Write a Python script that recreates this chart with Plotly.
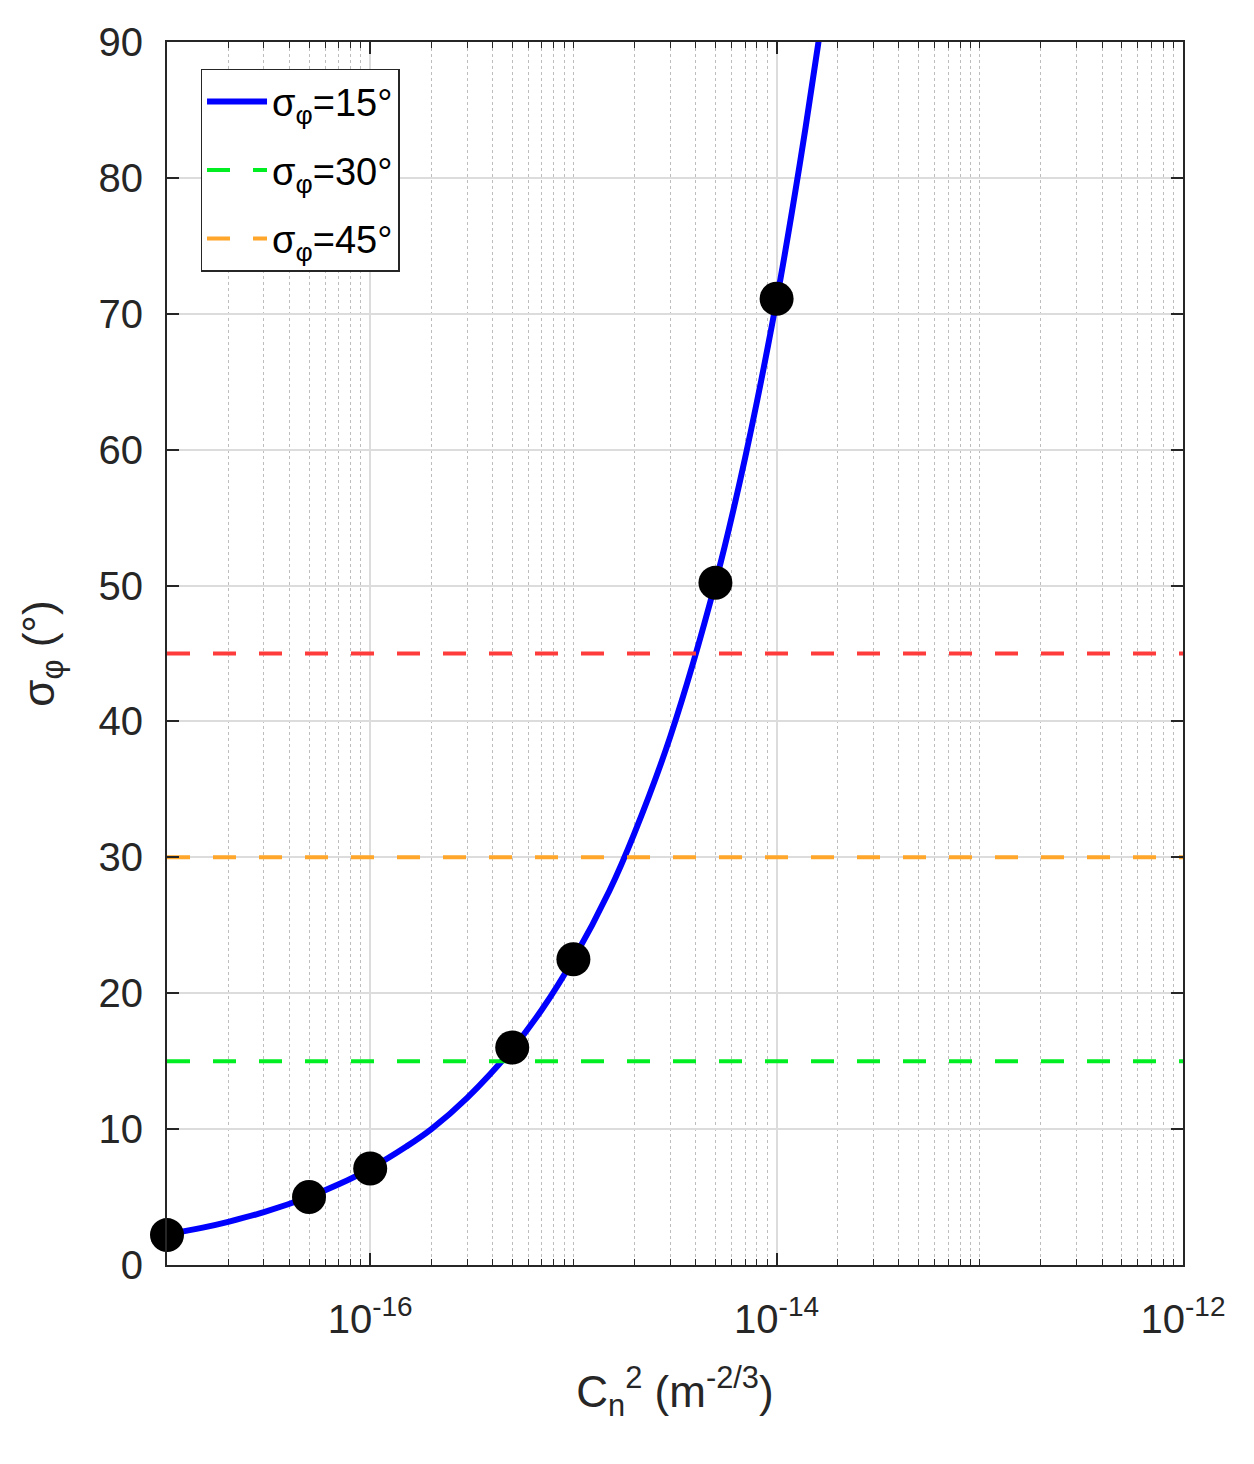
import plotly.graph_objects as go

# ---- data ----
curve_cn2 = [1e-17, 1.5e-17, 2e-17, 3e-17, 5e-17, 7e-17, 1e-16, 1.5e-16, 2e-16, 3e-16,
             5e-16, 7e-16, 1e-15, 1.5e-15, 2e-15, 3e-15, 5e-15, 7e-15, 1e-14, 1.3e-14,
             1.6e-14, 1.7e-14]
curve_sigma = [2.25, 2.75, 3.18, 3.89, 5.02, 5.94, 7.1, 8.7, 10.0, 12.3,
               15.9, 18.8, 22.5, 27.5, 31.8, 38.9, 50.2, 59.4, 71.0, 81.0,
               89.8, 92.6]
point_cn2 = [1e-17, 5e-17, 1e-16, 5e-16, 1e-15, 5e-15, 1e-14]
point_sigma = [2.2, 5.0, 7.1, 16.0, 22.5, 50.2, 71.1]
x_range = [1e-17, 1e-12]
thresholds = [15, 30, 45]
legend_names = ["σ<sub>φ</sub>=15°", "σ<sub>φ</sub>=30°", "σ<sub>φ</sub>=45°"]
xtick_vals = [1e-16, 1e-14, 1e-12]
xtick_text = ["10<sup>-16</sup>", "10<sup>-14</sup>", "10<sup>-12</sup>"]
ytick_vals = [0, 10, 20, 30, 40, 50, 60, 70, 80, 90]

INK = "#262626"
FONT = "Liberation Sans, Arial, sans-serif"

minor_vals = []
for e in range(-17, -12):
    for m in range(1, 10):
        v = m * 10.0 ** e
        if v not in xtick_vals:
            minor_vals.append(v)

fig = go.Figure()

fig.add_trace(go.Scatter(x=curve_cn2, y=curve_sigma, mode="lines", name=legend_names[0],
                         legendgroup="a",
                         line=dict(color="#0000ff", width=6, shape="spline")))
fig.add_trace(go.Scatter(x=x_range, y=[thresholds[0]] * 2, mode="lines", name=legend_names[1],
                         legendgroup="b",
                         line=dict(color="#00ee22", width=4, dash="23px,23px")))
fig.add_trace(go.Scatter(x=x_range, y=[thresholds[1]] * 2, mode="lines", name=legend_names[2],
                         legendgroup="c",
                         line=dict(color="#ffa62b", width=4, dash="23px,23px")))
fig.add_trace(go.Scatter(x=x_range, y=[thresholds[2]] * 2, mode="lines", showlegend=False,
                         line=dict(color="#ff3c3c", width=4, dash="23px,23px")))
fig.add_trace(go.Scatter(x=point_cn2, y=point_sigma, mode="markers", showlegend=False,
                         marker=dict(color="black", size=34), cliponaxis=False))

fig.update_layout(
    width=1254, height=1464,
    margin=dict(l=159, r=79, t=32, b=207),
    paper_bgcolor="white", plot_bgcolor="white",
    font=dict(family=FONT, color=INK, size=40),
    legend=dict(x=0.033, y=0.978, xanchor="left", yanchor="top",
                bgcolor="white", bordercolor=INK, borderwidth=1.5,
                font=dict(size=38, color="black"), tracegroupgap=16,
                itemwidth=60, entrywidth=240, entrywidthmode="pixels"),
    showlegend=True,
)

fig.update_xaxes(
    type="log", range=[-17, -12],
    tickmode="array", tickvals=xtick_vals, ticktext=xtick_text,
    ticks="inside", ticklen=12, tickwidth=1.5, tickcolor=INK,
    showline=True, linecolor=INK, linewidth=2, mirror="ticks",
    showgrid=True, gridcolor="#dcdcdc", gridwidth=1.5,
    zeroline=False, ticklabelstandoff=18,
    tickfont=dict(size=40, color=INK),
    minor=dict(tickmode="array", tickvals=minor_vals, ticks="inside", ticklen=6,
               tickcolor=INK, tickwidth=1.2, showgrid=True, gridcolor="#bdbdbd",
               griddash="dot", gridwidth=1),
    title=dict(text="C<sub>n</sub><sup>2</sup> (m<sup>-2/3</sup>)", font=dict(size=44, color=INK),
               standoff=36),
)
fig.update_yaxes(
    range=[0, 90], tickmode="array", tickvals=ytick_vals,
    ticks="inside", ticklen=12, tickwidth=1.5, tickcolor=INK,
    showline=True, linecolor=INK, linewidth=2, mirror="ticks",
    showgrid=True, gridcolor="#dcdcdc", gridwidth=1.5,
    zeroline=False, ticklabelstandoff=14,
    tickfont=dict(size=40, color=INK),
    title=dict(text="σ<sub>φ</sub> (°)", font=dict(size=44, color=INK), standoff=30),
)

fig.write_html("out.html")
